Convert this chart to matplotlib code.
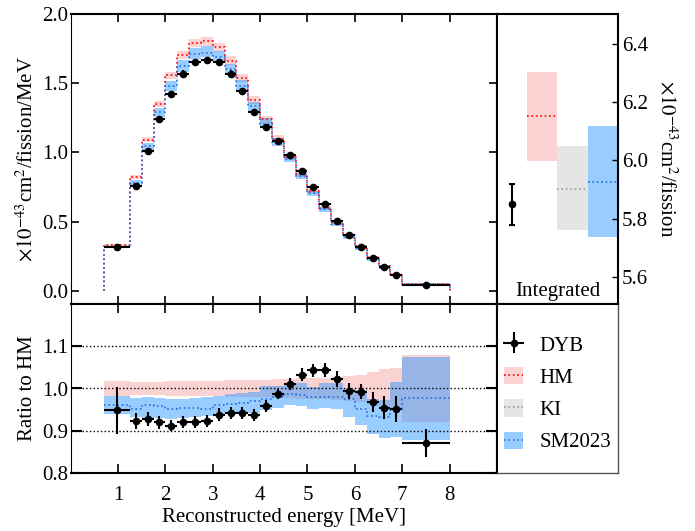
import matplotlib

matplotlib.use("Agg")
import matplotlib.pyplot as plt
import numpy as np
from matplotlib.lines import Line2D
from matplotlib.patches import Patch

plt.rcParams.update({
    "font.family": ["Liberation Serif", "DejaVu Serif"],
    "mathtext.fontset": "stix",
    "font.size": 15,
})

# ── Data ──
edges = np.array([0.7, 1.25, 1.5, 1.75, 2.0, 2.25, 2.5, 2.75, 3.0, 3.25, 3.5, 3.75,
                  4.0, 4.25, 4.5, 4.75, 5.0, 5.25, 5.5, 5.75, 6.0, 6.25, 6.5, 6.75,
                  7.0, 8.0])
# measured DYB spectrum, 1e-43 cm2/fission/MeV
dyb = np.array([0.315, 0.758, 1.013, 1.240, 1.420, 1.570, 1.650, 1.666, 1.650, 1.567,
                1.446, 1.292, 1.186, 1.085, 0.980, 0.869, 0.749, 0.626, 0.505, 0.400,
                0.320, 0.236, 0.171, 0.116, 0.043])
# HM prediction
hm = np.array([0.332, 0.821, 1.092, 1.348, 1.557, 1.705, 1.792, 1.803, 1.759, 1.664,
               1.535, 1.377, 1.238, 1.100, 0.969, 0.841, 0.718, 0.600, 0.494, 0.402,
               0.323, 0.244, 0.179, 0.122, 0.049])
hm_err = np.array([0.017, 0.016, 0.016, 0.016, 0.017, 0.017, 0.017, 0.018, 0.018, 0.019,
                   0.019, 0.020, 0.021, 0.022, 0.023, 0.024, 0.025, 0.026, 0.028, 0.030,
                   0.033, 0.040, 0.045, 0.048, 0.079])
# ratio to HM
ratio = np.array([0.948, 0.923, 0.928, 0.920, 0.912, 0.921, 0.921, 0.924, 0.938, 0.942,
                  0.942, 0.938, 0.958, 0.986, 1.011, 1.033, 1.043, 1.044, 1.023, 0.994,
                  0.992, 0.968, 0.955, 0.951, 0.871])
ratio_err = np.array([0.055, 0.020, 0.017, 0.016, 0.013, 0.014, 0.014, 0.014, 0.015, 0.015,
                      0.015, 0.014, 0.014, 0.012, 0.014, 0.016, 0.015, 0.017, 0.019, 0.018,
                      0.018, 0.024, 0.027, 0.031, 0.034])
sm = np.array([0.962, 0.952, 0.960, 0.958, 0.952, 0.954, 0.954, 0.952, 0.960, 0.964,
               0.966, 0.970, 0.976, 0.980, 0.986, 0.985, 0.980, 0.981, 0.981, 0.974,
               0.952, 0.934, 0.932, 0.950, 0.977])
sm_hi = np.array([0.982, 0.977, 0.979, 0.978, 0.974, 0.976, 0.978, 0.980, 0.983, 0.987,
                  0.990, 0.992, 1.007, 1.007, 1.013, 1.012, 1.004, 1.013, 1.013, 0.999,
                  0.996, 0.976, 0.973, 1.015, 1.075])
sm_lo = np.array([0.940, 0.933, 0.930, 0.930, 0.928, 0.929, 0.933, 0.935, 0.940, 0.942,
                  0.944, 0.943, 0.948, 0.954, 0.960, 0.959, 0.952, 0.954, 0.951, 0.933,
                  0.913, 0.892, 0.883, 0.885, 0.879])

# integrated yields, 1e-43 cm2/fission
int_dyb, int_dyb_err = 5.85, 0.07
int_models = ["HM", "KI", "SM2023"]
int_center = [6.153, 5.902, 5.926]
int_lo = [5.998, 5.761, 5.737]
int_hi = [6.304, 6.050, 6.118]

# ── Style ──
HM_FILL, HM_LINE = "#fad2d2", "red"
KI_FILL, KI_LINE = "#e5e5e5", "#999999"
SM_FILL, SM_LINE = "dodgerblue", "#1f6fde"
SM_ALPHA = 0.45
fills = [(HM_FILL, 1.0), (KI_FILL, 1.0), (SM_FILL, SM_ALPHA)]
lines = [HM_LINE, KI_LINE, SM_LINE]
THICK = 1.5

centers = 0.5 * (edges[:-1] + edges[1:])
half = 0.5 * np.diff(edges)

fig = plt.figure(figsize=(6.95, 5.31), dpi=100)
gs = fig.add_gridspec(2, 2, width_ratios=[426, 121], height_ratios=[290, 169],
                      left=70.7 / 695, right=618 / 695, top=1 - 14 / 531,
                      bottom=1 - 473 / 531, wspace=0, hspace=0)
ax_sp = fig.add_subplot(gs[0, 0])
ax_int = fig.add_subplot(gs[0, 1])
ax_r = fig.add_subplot(gs[1, 0])
ax_leg = fig.add_subplot(gs[1, 1])

# ── Spectrum ──
ax_sp.stairs(hm * (1 + hm_err), edges, baseline=hm * (1 - hm_err), fill=True,
             color=HM_FILL, lw=0, zorder=1)
ax_sp.stairs(hm * sm_hi, edges, baseline=hm * sm_lo, fill=True,
             color=SM_FILL, alpha=SM_ALPHA, lw=0, zorder=1.1)
ax_sp.stairs(hm, edges, baseline=0, color=HM_LINE, ls=":", lw=1.2, zorder=2)
ax_sp.stairs(hm * sm, edges, baseline=0, color=SM_LINE, ls=":", lw=1.2, zorder=2.1)
ax_sp.errorbar(centers, dyb, yerr=hm * ratio_err, xerr=half, fmt="o", color="k",
               ms=4.5, lw=1.5, capsize=0, zorder=3)
ax_sp.set_xlim(0, 9)
ax_sp.set_ylim(-0.095, 2.0)
ax_sp.set_yticks([0, 0.5, 1.0, 1.5, 2.0])
ax_sp.set_yticklabels(["0.0", "0.5", "1.0", "1.5", "2.0"])
ax_sp.set_xticks(range(1, 9))
ax_sp.tick_params(axis="x", direction="in", top=True, bottom=True, labelbottom=False,
                  length=6, width=1.2)
ax_sp.tick_params(axis="y", direction="in", left=True, right=True, length=6, width=1.2,
                  pad=2)
ax_sp.set_ylabel(r"$\times10^{-43}$cm$^2$/fission/MeV")
ax_sp.yaxis.set_label_coords(-0.078, 0.5)

# ── Integrated ──
for i, (c, lo, hi) in enumerate(zip(int_center, int_lo, int_hi)):
    fc, a = fills[i]
    ax_int.bar(i + 1.5, hi - lo, bottom=lo, width=1.0, color=fc, alpha=a, lw=0)
    ax_int.hlines(c, i + 1, i + 2, colors=lines[i], linestyles=":", lw=1.2)
ax_int.errorbar(0.5, int_dyb, yerr=int_dyb_err, fmt="o", color="k", ms=4.5, lw=1.5,
                capsize=2.5, capthick=1.5)
ax_int.set_xlim(0, 4)
ax_int.set_ylim(5.507, 6.503)
ax_int.set_xticks([])
ax_int.yaxis.tick_right()
ax_int.set_yticks([5.6, 5.8, 6.0, 6.2, 6.4])
ax_int.tick_params(axis="y", direction="in", length=4.5, width=1.0, pad=3)
ax_int.text(0.5, 0.012, "Integrated", transform=ax_int.transAxes, ha="center",
            va="bottom")
fig.text(666 / 695, 1 - 159 / 531, r"$\times10^{-43}$cm$^2$/fission", rotation=-90,
         ha="center", va="center")

# ── Ratio ──
ax_r.stairs(1 + hm_err, edges, baseline=1 - hm_err, fill=True, color=HM_FILL, lw=0,
            zorder=1)
ax_r.stairs(sm_hi, edges, baseline=sm_lo, fill=True, color=SM_FILL, alpha=SM_ALPHA,
            lw=0, zorder=1.1)
ax_r.stairs(sm, edges, baseline=None, color=SM_LINE, ls=":", lw=1.2, zorder=1.5)
for yv in (0.9, 1.0, 1.1):
    ax_r.axhline(yv, color="k", ls=":", lw=1.0, zorder=2)
dyb_handle = ax_r.errorbar(centers, ratio, yerr=ratio_err, xerr=half, fmt="o", color="k",
                           ms=4.5, lw=1.5, capsize=0, zorder=3)
ax_r.set_xlim(0, 9)
ax_r.set_ylim(0.8, 1.2)
ax_r.set_yticks([0.8, 0.9, 1.0, 1.1])
ax_r.set_xticks(range(1, 9))
ax_r.tick_params(axis="x", direction="in", top=True, bottom=True, length=6.5, width=1.2,
                 pad=9)
ax_r.tick_params(axis="y", direction="in", left=True, right=True, length=8, width=1.5,
                 pad=2)
ax_r.set_ylabel("Ratio to HM")
ax_r.yaxis.set_label_coords(-0.078, 0.5)
ax_r.set_xlabel("Reconstructed energy [MeV]")
ax_r.xaxis.set_label_coords(0.5, -0.205)

# ── Legend panel ──
ax_leg.set_xticks([])
ax_leg.set_yticks([])
handles = [dyb_handle]
for (fc, a), lc in zip(fills, lines):
    handles.append((Patch(facecolor=fc, alpha=a, lw=0), Line2D([], [], color=lc, ls=":", lw=1.2)))
ax_leg.legend(handles, ["DYB"] + int_models, loc="center left", bbox_to_anchor=(-0.06, 0.47),
              frameon=False, handlelength=0.9, handleheight=0.9, handletextpad=0.8,
              labelspacing=0.55, borderaxespad=0.3)

# ── Frames ──
for ax in (ax_sp, ax_int, ax_r, ax_leg):
    for s in ax.spines.values():
        s.set_linewidth(THICK)
        s.set_color("k")
for ax in (ax_sp, ax_r):
    ax.spines["left"].set_linewidth(0.8)
for side in ("right", "bottom"):
    ax_leg.spines[side].set_linewidth(1.0)
    ax_leg.spines[side].set_color("#555555")

fig.savefig("out.png", dpi=100, facecolor="white")
